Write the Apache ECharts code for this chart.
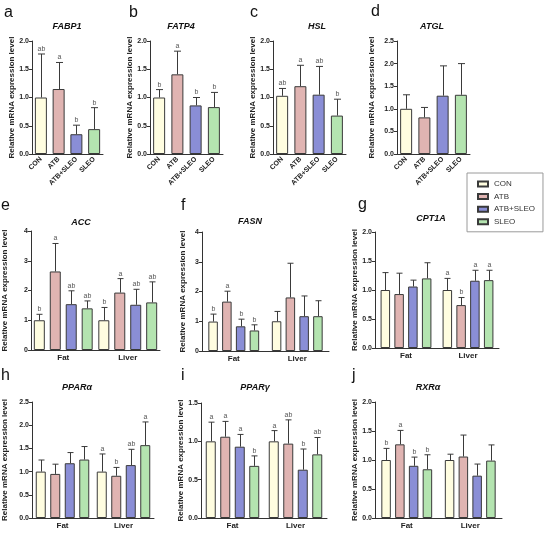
<!DOCTYPE html>
<html>
<head>
<meta charset="utf-8">
<script src="https://cdn.jsdelivr.net/npm/echarts@6/dist/echarts.min.js"></script>
<style>
html, body { margin: 0; padding: 0; background: #fff; }
#main { width: 550px; height: 535px; }
</style>
</head>
<body>
<div id="main"></div>
<script>
var groups = ['CON', 'ATB', 'ATB+SLEO', 'SLEO'];
var tissues = ['Fat', 'Liver'];
var colors = ['#fffde0', '#e0b4b2', '#8a8ed6', '#b4e4b0'];

// a-d: one value per group (mean, SD, letters)
var fabp1Mean = [1.00, 1.15, 0.35, 0.44];
var fabp1Sd = [0.77, 0.47, 0.16, 0.38];
var fabp1Sig = ['ab', 'a', 'b', 'b'];

var fatp4Mean = [1.00, 1.41, 0.86, 0.83];
var fatp4Sd = [0.14, 0.41, 0.14, 0.26];
var fatp4Sig = ['b', 'a', 'b', 'b'];

var hslMean = [1.03, 1.20, 1.05, 0.68];
var hslSd = [0.13, 0.37, 0.50, 0.29];
var hslSig = ['ab', 'a', 'ab', 'b'];

var atglMean = [1.00, 0.81, 1.29, 1.31];
var atglSd = [0.31, 0.22, 0.66, 0.69];
var atglSig = ['', '', '', ''];

// e-j: [Fat, Liver] per group
var accMean = [[1.00, 1.00], [2.64, 1.93], [1.54, 1.52], [1.40, 1.60]];
var accSd = [[0.20, 0.43], [0.94, 0.47], [0.45, 0.52], [0.25, 0.69]];
var accSig = [['b', 'b'], ['a', 'a'], ['ab', 'ab'], ['ab', 'ab']];

var fasnMean = [[0.99, 1.00], [1.66, 1.80], [0.83, 1.17], [0.69, 1.17]];
var fasnSd = [[0.25, 0.33], [0.35, 1.15], [0.24, 0.68], [0.19, 0.52]];
var fasnSig = [['b', ''], ['a', ''], ['b', ''], ['b', '']];

var cpt1aMean = [[1.00, 1.00], [0.93, 0.74], [1.06, 1.16], [1.20, 1.17]];
var cpt1aSd = [[0.30, 0.20], [0.36, 0.13], [0.11, 0.18], [0.27, 0.17]];
var cpt1aSig = [['', 'a'], ['', 'b'], ['', 'a'], ['', 'a']];

var pparaMean = [[1.00, 1.00], [0.95, 0.91], [1.18, 1.14], [1.26, 1.57]];
var pparaSd = [[0.25, 0.38], [0.21, 0.18], [0.23, 0.34], [0.28, 0.50]];
var pparaSig = [['', 'a'], ['', 'b'], ['', 'ab'], ['', 'a']];

var ppargMean = [[1.00, 1.00], [1.06, 0.97], [0.93, 0.63], [0.68, 0.83]];
var ppargSd = [[0.25, 0.14], [0.20, 0.31], [0.16, 0.27], [0.13, 0.22]];
var ppargSig = [['a', 'a'], ['a', 'ab'], ['a', 'b'], ['b', 'ab']];

var rxraMean = [[1.00, 1.00], [1.27, 1.06], [0.90, 0.73], [0.84, 0.99]];
var rxraSd = [[0.20, 0.10], [0.24, 0.37], [0.15, 0.20], [0.25, 0.27]];
var rxraSig = [['b', ''], ['a', ''], ['b', ''], ['b', '']];

var FONT = '"Liberation Sans", Arial, sans-serif';
var INK = '#333';
var YNAME = 'Relative mRNA expression level';

var singlePanels = [
  { gene: 'FABP1', mean: fabp1Mean, sd: fabp1Sd, sig: fabp1Sig, max: 2, step: 0.5 },
  { gene: 'FATP4', mean: fatp4Mean, sd: fatp4Sd, sig: fatp4Sig, max: 2, step: 0.5 },
  { gene: 'HSL', mean: hslMean, sd: hslSd, sig: hslSig, max: 2, step: 0.5 },
  { gene: 'ATGL', mean: atglMean, sd: atglSd, sig: atglSig, max: 2.5, step: 0.5 }
];
var pairPanels = [
  { gene: 'ACC', mean: accMean, sd: accSd, sig: accSig, max: 4, step: 1 },
  { gene: 'FASN', mean: fasnMean, sd: fasnSd, sig: fasnSig, max: 4, step: 1 },
  { gene: 'CPT1A', mean: cpt1aMean, sd: cpt1aSd, sig: cpt1aSig, max: 2, step: 0.5 },
  { gene: 'PPARα', mean: pparaMean, sd: pparaSd, sig: pparaSig, max: 2.5, step: 0.5 },
  { gene: 'PPARγ', mean: ppargMean, sd: ppargSd, sig: ppargSig, max: 1.5, step: 0.5 },
  { gene: 'RXRα', mean: rxraMean, sd: rxraSd, sig: rxraSig, max: 2, step: 0.5 }
];

// page layout of each panel: grid rect [left, top, width, height], y name gap, letter pos, title pos, bar width
var boxes = [
  { letter: 'a', rect: [32, 41, 71, 113], gap: 13, lp: [4, 5], tp: [67, 27], bw: 12 },
  { letter: 'b', rect: [150, 41, 73, 113], gap: 12, lp: [129, 5], tp: [181, 27], bw: 12 },
  { letter: 'c', rect: [273, 41, 73, 113], gap: 16, lp: [250, 5], tp: [317, 27], bw: 12 },
  { letter: 'd', rect: [397, 41, 73, 113], gap: 21, lp: [371, 4], tp: [432, 27], bw: 12 },
  { letter: 'e', rect: [29, 231, 131, 119], gap: 22, lp: [1, 198], tp: [81, 223], bw: 11 },
  { letter: 'f', rect: [202, 232, 127, 119], gap: 15, lp: [181, 198], tp: [250, 222], bw: 9.5 },
  { letter: 'g', rect: [375, 232, 124, 116], gap: 14, lp: [358, 197], tp: [431, 219], bw: 9.5 },
  { letter: 'h', rect: [30, 402, 124, 116], gap: 23, lp: [1, 368], tp: [77, 388], bw: 10 },
  { letter: 'i', rect: [201, 403, 126, 115], gap: 16, lp: [181, 368], tp: [255, 388], bw: 10 },
  { letter: 'j', rect: [375, 402, 127, 116], gap: 13, lp: [352, 368], tp: [428, 388], bw: 9.5 }
];

var BAR_GAP = 0.45;

function errRender(sd, sig, offset, capW) {
  return function (params, api) {
    var i = params.dataIndex;
    var c = api.value(0), m = api.value(1);
    var p0 = api.coord([c, m]);
    var p1 = api.coord([c, m + sd[i]]);
    var x = Math.round(p0[0] + offset) + 0.5;
    var st = { stroke: '#3a3a3a', lineWidth: 1 };
    var kids = [
      { type: 'line', shape: { x1: x, y1: p0[1], x2: x, y2: p1[1] }, style: st },
      { type: 'line', shape: { x1: x - capW / 2, y1: p1[1], x2: x + capW / 2, y2: p1[1] }, style: st }
    ];
    if (sig[i]) {
      kids.push({
        type: 'text',
        style: { text: sig[i], x: x, y: p1[1] - 1.5, align: 'center', verticalAlign: 'bottom',
          fontSize: 7, fill: '#555', fontFamily: FONT }
      });
    }
    return { type: 'group', children: kids };
  };
}

function yAxisFor(idx, p, b) {
  return {
    type: 'value', gridIndex: idx, min: 0, max: p.max, interval: p.step,
    name: YNAME, nameLocation: 'middle', nameGap: b.gap,
    nameTextStyle: { fontSize: 8, fontWeight: 'bold', color: '#222', fontFamily: FONT },
    axisLine: { show: true, lineStyle: { color: INK, width: 1 } },
    axisTick: { show: true, length: 3, lineStyle: { color: INK } },
    splitLine: { show: false },
    axisLabel: {
      fontSize: 7, fontWeight: 'bold', color: '#222', margin: 3,
      formatter: function (v) { return p.step < 1 ? v.toFixed(1) : String(v); }
    }
  };
}

var option = {
  animation: false,
  textStyle: { fontFamily: FONT },
  grid: [], xAxis: [], yAxis: [], series: [], graphic: [],
  legend: {
    data: groups, orient: 'vertical', left: 467, top: 173,
    padding: [6, 8, 5, 10], itemGap: 2.6, itemWidth: 10, itemHeight: 5, icon: 'rect',
    borderColor: '#9a9a9a', borderWidth: 1,
    textStyle: { fontSize: 8, color: '#333', lineHeight: 10, padding: [0, 0, 0, 1] }
  }
};

boxes.forEach(function (b, idx) {
  option.grid.push({ left: b.rect[0], top: b.rect[1], width: b.rect[2], height: b.rect[3], containLabel: false });
  option.graphic.push({
    type: 'text', left: b.lp[0], top: b.lp[1],
    style: { text: b.letter, fontSize: 16, fill: '#111', fontFamily: FONT }
  });
});

singlePanels.forEach(function (p, idx) {
  var b = boxes[idx];
  option.xAxis.push({
    type: 'category', gridIndex: idx, data: groups,
    axisLine: { lineStyle: { color: INK, width: 1 } },
    axisTick: { alignWithLabel: true, length: 3, lineStyle: { color: INK } },
    axisLabel: { rotate: 45, interval: 0, fontSize: 7, fontWeight: 'bold', color: '#222', margin: 4 }
  });
  option.yAxis.push(yAxisFor(idx, p, b));
  option.series.push({
    name: p.gene, type: 'bar', xAxisIndex: idx, yAxisIndex: idx, barWidth: b.bw,
    itemStyle: { borderColor: '#3a3a3a', borderWidth: 1 },
    data: p.mean.map(function (v, i) { return { value: v, itemStyle: { color: colors[i] } }; })
  });
  option.series.push({
    type: 'custom', xAxisIndex: idx, yAxisIndex: idx, z: 3,
    renderItem: errRender(p.sd, p.sig, 0, 7),
    encode: { x: 0, y: 1 },
    data: p.mean.map(function (v, i) { return [i, v]; })
  });
  option.graphic.push({
    type: 'text', x: b.tp[0], y: b.tp[1],
    style: { text: p.gene, fontSize: 9, fontWeight: 'bold', fontStyle: 'italic', fill: '#111',
      fontFamily: FONT, align: 'center', verticalAlign: 'middle' }
  });
});

pairPanels.forEach(function (p, j) {
  var idx = j + singlePanels.length;
  var b = boxes[idx];
  option.xAxis.push({
    type: 'category', gridIndex: idx, data: tissues,
    axisLine: { lineStyle: { color: INK, width: 1 } },
    axisTick: { alignWithLabel: true, length: 3, lineStyle: { color: INK } },
    axisLabel: { fontSize: 8, fontWeight: 'bold', color: '#222', margin: 4 }
  });
  option.yAxis.push(yAxisFor(idx, p, b));
  groups.forEach(function (g, k) {
    option.series.push({
      name: g, type: 'bar', xAxisIndex: idx, yAxisIndex: idx,
      barWidth: b.bw, barGap: (BAR_GAP * 100) + '%',
      itemStyle: { color: colors[k], borderColor: '#3a3a3a', borderWidth: 1 },
      data: p.mean[k]
    });
    var offset = (k - 1.5) * b.bw * (1 + BAR_GAP);
    option.series.push({
      type: 'custom', xAxisIndex: idx, yAxisIndex: idx, z: 3,
      renderItem: errRender(p.sd[k], p.sig[k], offset, 6),
      encode: { x: 0, y: 1 },
      data: p.mean[k].map(function (v, t) { return [t, v]; })
    });
  });
  option.graphic.push({
    type: 'text', x: b.tp[0], y: b.tp[1],
    style: { text: p.gene, fontSize: 9, fontWeight: 'bold', fontStyle: 'italic', fill: '#111',
      fontFamily: FONT, align: 'center', verticalAlign: 'middle' }
  });
});

var chart = echarts.init(document.getElementById('main'));
chart.setOption(option);
</script>
</body>
</html>
